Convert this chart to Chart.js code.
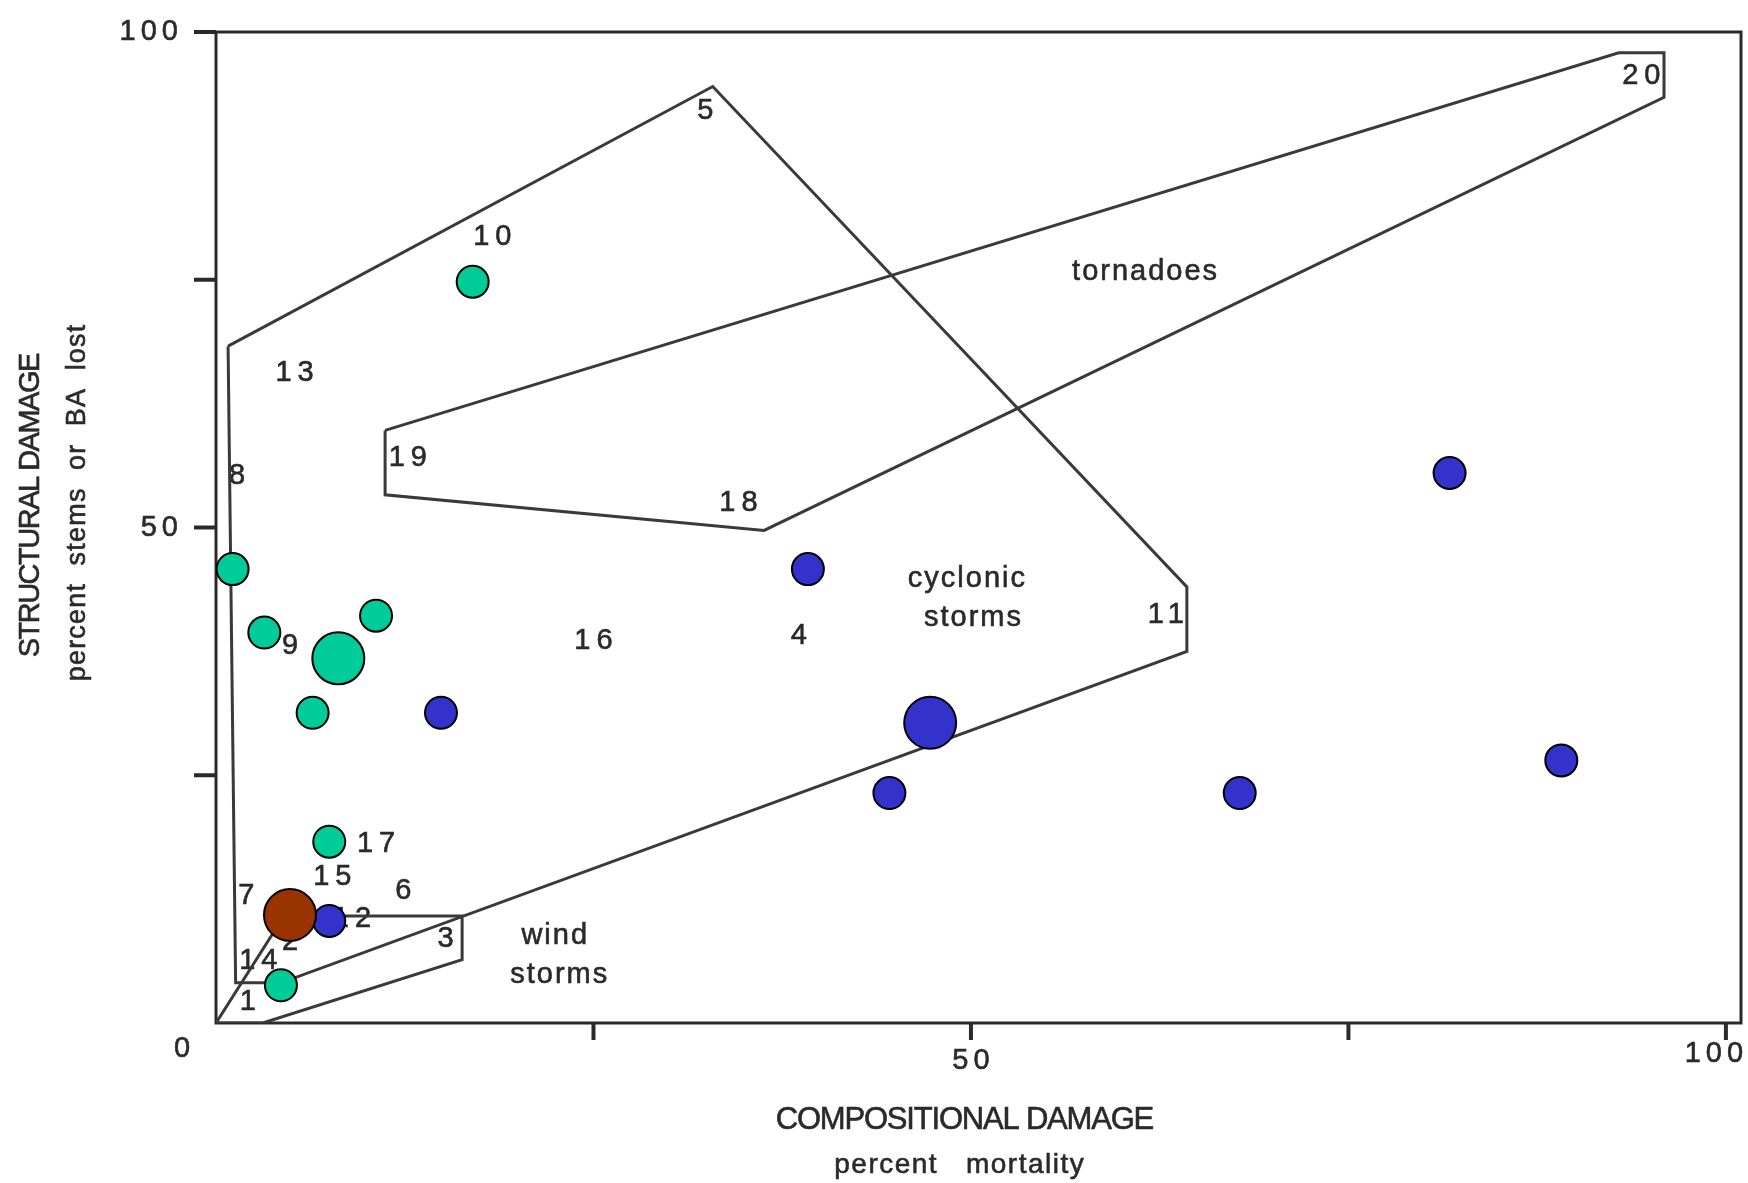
<!DOCTYPE html>
<html>
<head>
<meta charset="utf-8">
<script src="https://cdn.jsdelivr.net/npm/chart.js@4.4.1/dist/chart.umd.min.js"></script>
<style>
  html, body { margin: 0; padding: 0; background: #ffffff; }
  #wrap { width: 1748px; height: 1183px; }
</style>
</head>
<body>
<div id="wrap"><canvas id="myChart" width="1748" height="1183"></canvas></div>
<script>
// points (x = % mortality, y = % stems or BA lost)
const greenX = [17.0, 1.1, 3.2, 10.6, 8.1, 6.4, 7.5, 4.3];
const greenY = [74.8, 45.8, 39.4, 41.1, 36.8, 31.3, 18.3, 3.8];
const blueX = [81.7, 39.2, 14.9, 47.3, 44.6, 67.8, 89.1, 7.5];
const blueY = [55.5, 45.8, 31.3, 30.3, 23.2, 23.2, 26.5, 10.3];
const brownX = [4.9];
const brownY = [10.9];

// marker radius per point (big dots)
const greenRadius = [16, 16, 16, 16, 26, 16, 16, 16];
const blueRadius = [16, 16, 16, 26, 16, 16, 16, 16];
const brownRadius = [26];

// envelopes
const cyclonicX = [0.8, 32.9, 64.3, 64.3, 4.3, 1.3, 0.8];
const cyclonicY = [68.3, 94.5, 44.0, 37.5, 4.05, 4.05, 68.3];
const tornadoX = [11.2, 92.9, 95.9, 95.9, 36.3, 11.2, 11.2];
const tornadoY = [59.8, 97.9, 97.9, 93.4, 49.7, 53.3, 59.8];
const windX = [0, 4.5, 16.3, 16.3, 3.1, 0];
const windY = [0, 10.8, 10.8, 6.4, 0, 0];

// site numbers and region names
const siteLabels = ["10", "5", "13", "19", "8", "18", "20", "11", "16", "4", "9", "17", "15", "7", "6", "12", "2", "3", "14", "1"];
const siteX = [18.3, 32.4, 5.2, 12.7, 1.4, 34.6, 94.4, 62.9, 25.0, 38.6, 4.9, 10.6, 7.7, 2.0, 12.4, 9.0, 4.9, 15.2, 2.8, 2.1];
const siteY = [79.3, 92.0, 65.6, 57.0, 55.2, 52.5, 95.6, 41.2, 38.5, 39.1, 38.0, 18.1, 14.7, 12.8, 13.3, 10.5, 8.2, 8.5, 6.3, 2.1];
const regionLabels = ["tornadoes", "cyclonic", "storms", "wind", "storms"];
const regionX = [61.5, 49.7, 50.1, 22.4, 22.7];
const regionY = [75.8, 44.8, 40.9, 8.8, 4.8];

const xTicks = [0, 25, 50, 75, 100];
const yTicks = [0, 25, 50, 75, 100];
const xTickText = ["", "", "50", "", "100"];
const yTickText = ["", "", "50", "", "100"];

const ink = "#2a2a2a";

function pts(xs, ys) {
  return xs.map((x, i) => ({ x: x, y: ys[i] }));
}

function txt(ctx, s, x, y, size, spacing, align) {
  ctx.save();
  ctx.font = size + "px 'Liberation Sans', Arial, sans-serif";
  ctx.letterSpacing = spacing + "px";
  ctx.fillStyle = ink;
  ctx.strokeStyle = ink;
  ctx.lineWidth = 0.6;
  ctx.textAlign = align || "center";
  ctx.textBaseline = "middle";
  let dx = 0;
  if (!align || align === "center") dx = spacing / 2;
  if (align === "right") dx = spacing;
  ctx.fillText(s, x + dx, y);
  ctx.strokeText(s, x + dx, y);
  ctx.restore();
}

const paperPlugin = {
  id: "paper",
  beforeDatasetsDraw(chart) {
    const ctx = chart.ctx;
    const a = chart.chartArea;
    const xs = chart.scales.x;
    const ys = chart.scales.y;

    // frame
    ctx.save();
    ctx.strokeStyle = ink;
    ctx.lineWidth = 3;
    ctx.strokeRect(a.left, a.top, a.right - a.left, a.bottom - a.top);

    // tick marks
    ctx.lineWidth = 4;
    yTicks.forEach((v) => {
      if (v === 0) return;
      const py = ys.getPixelForValue(v);
      ctx.beginPath();
      ctx.moveTo(a.left - 22, py);
      ctx.lineTo(a.left, py);
      ctx.stroke();
    });
    xTicks.forEach((v) => {
      if (v === 0) return;
      const px = xs.getPixelForValue(v);
      ctx.beginPath();
      ctx.moveTo(px, a.bottom);
      ctx.lineTo(px, a.bottom + 17);
      ctx.stroke();
    });
    ctx.restore();

    // tick labels
    yTicks.forEach((v, i) => {
      if (yTickText[i]) txt(ctx, yTickText[i], a.left - 38, ys.getPixelForValue(v), 29, 5, "right");
    });
    xTicks.forEach((v, i) => {
      if (!xTickText[i]) return;
      const px = xs.getPixelForValue(v);
      if (v === 100) txt(ctx, xTickText[i], px - 12, a.bottom + 31, 29, 5);
      else txt(ctx, xTickText[i], px, a.bottom + 38, 29, 5);
    });
    txt(ctx, "0", xs.getPixelForValue(0) - 34, a.bottom + 26, 29, 0);

    // axis titles
    txt(ctx, "COMPOSITIONAL DAMAGE", 965, 1120, 31, -1.2);
    txt(ctx, "percent   mortality", 959, 1165, 28, 1.5);
    ctx.save();
    ctx.translate(31, 505);
    ctx.rotate(-Math.PI / 2);
    txt(ctx, "STRUCTURAL DAMAGE", 0, 0, 29, -1.5);
    ctx.restore();
    ctx.save();
    ctx.translate(78, 503);
    ctx.rotate(-Math.PI / 2);
    txt(ctx, "percent  stems  or  BA  lost", 0, 0, 27, 1.2);
    ctx.restore();

    // site numbers and region names
    siteLabels.forEach((s, i) => {
      txt(ctx, s, xs.getPixelForValue(siteX[i]), ys.getPixelForValue(siteY[i]), 29, 6);
    });
    regionLabels.forEach((s, i) => {
      txt(ctx, s, xs.getPixelForValue(regionX[i]), ys.getPixelForValue(regionY[i]), 29, 2);
    });
  },
};

function envelope(label, xs, ys) {
  return {
    type: "scatter",
    label: label,
    data: pts(xs, ys),
    showLine: true,
    fill: false,
    borderColor: "#3a3a3a",
    borderWidth: 3,
    pointRadius: 0,
    tension: 0,
    order: 2,
  };
}

function dots(label, xs, ys, color, radius) {
  return {
    type: "scatter",
    label: label,
    data: pts(xs, ys),
    backgroundColor: color,
    borderColor: "#000000",
    borderWidth: 2,
    pointRadius: radius,
    pointHoverRadius: radius,
    order: 0,
  };
}

const ctx = document.getElementById("myChart").getContext("2d");
new Chart(ctx, {
  type: "scatter",
  data: {
    datasets: [
      dots("brown", brownX, brownY, "#993300", brownRadius),
      dots("blue", blueX, blueY, "#3333cc", blueRadius),
      dots("green", greenX, greenY, "#00cc99", greenRadius),
      envelope("cyclonic storms", cyclonicX, cyclonicY),
      envelope("tornadoes", tornadoX, tornadoY),
      envelope("wind storms", windX, windY),
    ],
  },
  options: {
    responsive: false,
    animation: false,
    devicePixelRatio: 1,
    layout: { autoPadding: false, padding: { left: 216, top: 32, right: 7, bottom: 160 } },
    scales: {
      x: { type: "linear", min: 0, max: 101, display: false },
      y: { type: "linear", min: 0, max: 100, display: false },
    },
    plugins: { legend: { display: false }, tooltip: { enabled: false } },
  },
  plugins: [paperPlugin],
});
</script>
</body>
</html>
